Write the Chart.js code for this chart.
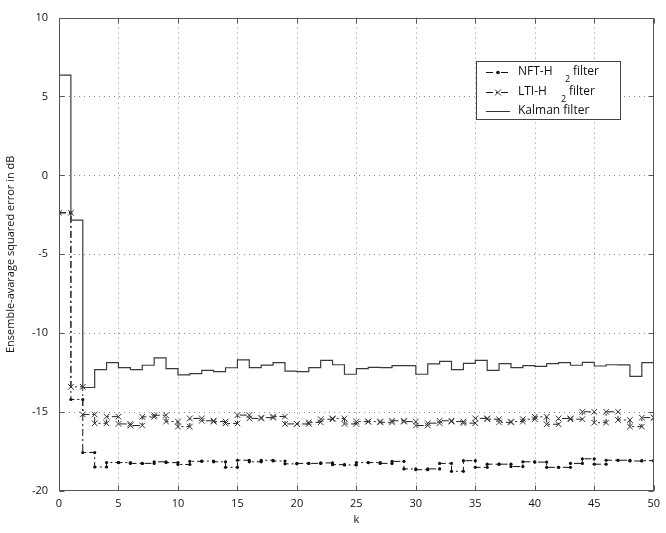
<!DOCTYPE html>
<html>
<head>
<meta charset="utf-8">
<script src="https://cdn.jsdelivr.net/npm/chart.js@4/dist/chart.umd.min.js"></script>
<style>
  html, body { margin: 0; padding: 0; background: #fff; }
  #wrap { width: 666px; height: 533px; }
</style>
</head>
<body>
<div id="wrap"><canvas id="c" width="666" height="533"></canvas></div>
<script>
// Time index k
const steps = [0,1,2,3,4,5,6,7,8,9,10,11,12,13,14,15,16,17,18,19,20,21,22,23,24,25,26,27,28,29,30,
               31,32,33,34,35,36,37,38,39,40,41,42,43,44,45,46,47,48,49,50];

// Ensemble-average squared error (dB) per filter
const nftH2 = [-2.37,-14.20,-17.56,-18.48,-18.20,-18.20,-18.25,-18.25,-18.15,-18.20,
               -18.32,-18.12,-18.10,-18.15,-18.50,-18.05,-18.15,-18.05,-18.10,-18.28,
               -18.25,-18.25,-18.22,-18.33,-18.35,-18.20,-18.20,-18.25,-18.12,-18.60,
               -18.65,-18.60,-18.25,-18.75,-18.08,-18.50,-18.30,-18.30,-18.45,-18.15,
               -18.17,-18.50,-18.50,-18.25,-17.96,-18.30,-18.05,-18.05,-18.10,-18.08,-18.08];

const ltiH2 = [-2.37,-13.40,-15.15,-15.71,-15.29,-15.75,-15.85,-15.30,-15.20,-15.60,
               -15.92,-15.40,-15.55,-15.60,-15.72,-15.19,-15.40,-15.35,-15.28,-15.75,
               -15.75,-15.65,-15.45,-15.40,-15.75,-15.60,-15.60,-15.65,-15.55,-15.60,
               -15.85,-15.70,-15.55,-15.60,-15.70,-15.40,-15.45,-15.65,-15.60,-15.45,
               -15.30,-15.77,-15.40,-15.45,-14.98,-15.67,-14.98,-15.50,-15.92,-15.35,-15.35];

const kalman = [6.35,-2.84,-13.44,-12.31,-11.86,-12.18,-12.31,-12.03,-11.56,-12.25,
                -12.64,-12.56,-12.35,-12.43,-12.19,-11.69,-12.18,-12.02,-11.87,-12.40,
                -12.43,-12.18,-11.72,-12.00,-12.60,-12.25,-12.16,-12.18,-12.06,-12.06,
                -12.60,-11.95,-11.78,-12.31,-11.91,-11.72,-12.35,-11.93,-12.18,-12.06,
                -12.10,-11.93,-11.87,-12.03,-11.85,-12.08,-12.00,-12.01,-12.73,-11.87,-11.87];

const xTicks = [0,5,10,15,20,25,30,35,40,45,50];
const yTicks = [-20,-15,-10,-5,0,5,10];

const FONT = '"Open Sans", "DejaVu Sans", sans-serif';
const DASHDOT = [7, 3, 2, 3];

// Staircase vertices: each value is held from k to k+1
function stairs(ys) {
  const pts = [];
  for (let i = 0; i < ys.length - 1; i++) {
    pts.push({ x: steps[i], y: ys[i] });
    pts.push({ x: steps[i + 1], y: ys[i] });
  }
  pts.push({ x: steps[steps.length - 1], y: ys[ys.length - 1] });
  return pts;
}

// Dotted grid, frame, inward tick marks and the boxed legend
const decor = {
  id: 'decor',
  beforeDatasetsDraw(chart) {
    const { ctx, chartArea: a, scales: { x, y } } = chart;
    ctx.save();
    ctx.strokeStyle = '#8a8a8a';
    ctx.lineWidth = 1;
    ctx.setLineDash([1, 4]);
    xTicks.forEach(v => {
      if (v === xTicks[0] || v === xTicks[xTicks.length - 1]) return;
      const px = Math.round(x.getPixelForValue(v)) + 0.5;
      ctx.beginPath(); ctx.moveTo(px, a.top); ctx.lineTo(px, a.bottom); ctx.stroke();
    });
    yTicks.forEach(v => {
      if (v === yTicks[0] || v === yTicks[yTicks.length - 1]) return;
      const py = Math.round(y.getPixelForValue(v)) + 0.5;
      ctx.beginPath(); ctx.moveTo(a.left, py); ctx.lineTo(a.right, py); ctx.stroke();
    });
    ctx.restore();
  },
  afterDatasetsDraw(chart) {
    const { ctx, chartArea: a, scales: { x, y } } = chart;
    ctx.save();
    ctx.setLineDash([]);
    ctx.strokeStyle = '#555';
    ctx.lineWidth = 1;
    const L = Math.round(a.left) + 0.5, R = Math.round(a.right) - 0.5;
    const T = Math.round(a.top) + 0.5, B = Math.round(a.bottom) - 0.5;
    ctx.strokeRect(L, T, R - L, B - T);
    const tl = 5;
    ctx.beginPath();
    xTicks.forEach(v => {
      const px = Math.round(x.getPixelForValue(v)) + 0.5;
      ctx.moveTo(px, B); ctx.lineTo(px, B - tl);
      ctx.moveTo(px, T); ctx.lineTo(px, T + tl);
    });
    yTicks.forEach(v => {
      const py = Math.round(y.getPixelForValue(v)) + 0.5;
      ctx.moveTo(L, py); ctx.lineTo(L + tl, py);
      ctx.moveTo(R, py); ctx.lineTo(R - tl, py);
    });
    ctx.stroke();
    ctx.restore();
  },
  afterDraw(chart) {
    const { ctx } = chart;
    ctx.save();
    // legend box
    const bx = 476.5, by = 61.5, bw = 144, bh = 58;
    ctx.fillStyle = '#fff';
    ctx.fillRect(bx, by, bw, bh);
    ctx.strokeStyle = '#444';
    ctx.lineWidth = 1;
    ctx.setLineDash([]);
    ctx.strokeRect(bx, by, bw, bh);

    const sx0 = 486, sx1 = 510, mx = 498;
    const rows = [72, 92, 111];

    // NFT-H2 sample
    ctx.strokeStyle = '#111';
    ctx.setLineDash(DASHDOT);
    ctx.beginPath(); ctx.moveTo(sx0, rows[0] + 0.5); ctx.lineTo(sx1, rows[0] + 0.5); ctx.stroke();
    ctx.setLineDash([]);
    ctx.fillStyle = '#111';
    ctx.beginPath(); ctx.arc(mx, rows[0] + 0.5, 1.8, 0, Math.PI * 2); ctx.fill();

    // LTI-H2 sample
    ctx.setLineDash(DASHDOT);
    ctx.beginPath(); ctx.moveTo(sx0, rows[1] + 0.5); ctx.lineTo(sx1, rows[1] + 0.5); ctx.stroke();
    ctx.setLineDash([]);
    ctx.strokeStyle = '#333';
    ctx.beginPath();
    ctx.moveTo(mx - 3, rows[1] - 2.5); ctx.lineTo(mx + 3, rows[1] + 3.5);
    ctx.moveTo(mx + 3, rows[1] - 2.5); ctx.lineTo(mx - 3, rows[1] + 3.5);
    ctx.stroke();

    // Kalman sample
    ctx.strokeStyle = '#333';
    ctx.beginPath(); ctx.moveTo(sx0, rows[2] + 0.5); ctx.lineTo(sx1, rows[2] + 0.5); ctx.stroke();

    // labels
    ctx.fillStyle = '#111';
    ctx.textBaseline = 'middle';
    ctx.textAlign = 'left';
    ctx.font = '12px ' + FONT;
    ctx.fillText('NFT-H', 518, rows[0]);
    ctx.fillText('filter', 573, rows[0]);
    ctx.fillText('LTI-H', 518, rows[1]);
    ctx.fillText('filter', 569, rows[1]);
    ctx.fillText('Kalman filter', 518, rows[2]);
    ctx.font = '9px ' + FONT;
    ctx.fillText('2', 565, rows[0] + 7);
    ctx.fillText('2', 561, rows[1] + 7);
    ctx.restore();
  }
};

new Chart(document.getElementById('c'), {
  type: 'line',
  data: {
    datasets: [
      {
        label: 'NFT-H2 filter',
        data: stairs(nftH2),
        borderColor: '#111',
        borderWidth: 1,
        borderDash: DASHDOT,
        pointStyle: 'circle',
        pointRadius: 1.6,
        pointBackgroundColor: '#111',
        pointBorderColor: '#111',
        pointBorderWidth: 0,
        fill: false,
        tension: 0,
        order: 3
      },
      {
        label: 'LTI-H2 filter',
        data: stairs(ltiH2),
        borderColor: '#222',
        borderWidth: 1,
        borderDash: DASHDOT,
        pointStyle: 'crossRot',
        pointRadius: 4,
        pointBorderColor: '#333',
        pointBorderWidth: 1,
        fill: false,
        tension: 0,
        order: 2
      },
      {
        label: 'Kalman filter',
        data: stairs(kalman),
        borderColor: '#3a3a3a',
        borderWidth: 1.2,
        pointRadius: 0,
        fill: false,
        tension: 0,
        order: 1
      }
    ]
  },
  options: {
    responsive: false,
    animation: false,
    devicePixelRatio: 1,
    layout: { padding: { left: 0, right: 5, top: 15, bottom: 0 } },
    plugins: {
      legend: { display: false },
      tooltip: { enabled: false },
      title: { display: false }
    },
    scales: {
      x: {
        type: 'linear',
        min: 0, max: 50,
        afterBuildTicks: s => { s.ticks = xTicks.map(v => ({ value: v })); },
        afterFit: s => { s.height = 42; },
        grid: { display: false, drawTicks: false },
        border: { display: false },
        ticks: { color: '#111', font: { family: FONT, size: 11 }, padding: 6, maxRotation: 0 },
        title: { display: true, text: 'k', color: '#111', font: { family: FONT, size: 11 }, padding: { top: 6, bottom: 7 } }
      },
      y: {
        type: 'linear',
        min: -20, max: 10,
        afterBuildTicks: s => { s.ticks = yTicks.map(v => ({ value: v })); },
        afterFit: s => { s.width = 59; },
        grid: { display: false, drawTicks: false },
        border: { display: false },
        ticks: { color: '#111', font: { family: FONT, size: 11 }, padding: 11 },
        title: { display: true, text: 'Ensemble-avarage squared error in dB', color: '#111', font: { family: FONT, size: 11 }, padding: { top: 4, bottom: 0 } }
      }
    }
  },
  plugins: [decor]
});
</script>
</body>
</html>
